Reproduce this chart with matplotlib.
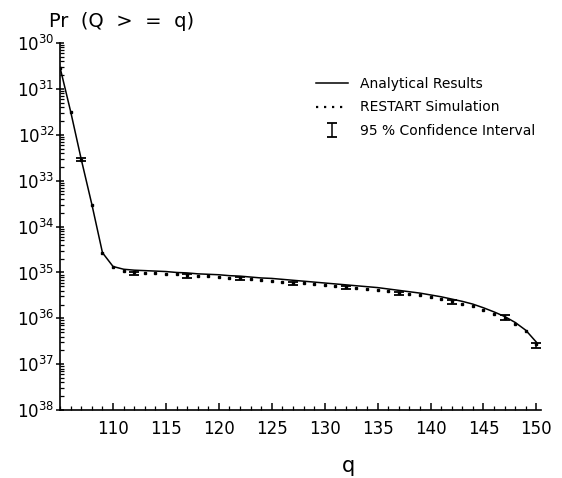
import matplotlib
matplotlib.use("Agg")
import matplotlib.pyplot as plt
from matplotlib.lines import Line2D
from matplotlib.ticker import FixedLocator, FuncFormatter, MultipleLocator
import numpy as np

plt.rcParams['font.family'] = ['DejaVu Sans']
plt.rcParams['mathtext.fontset'] = 'dejavusans'

# q values
q = list(range(105, 151))
# exponent k where Pr = 10^-k
analytical_exp = [30.54, 31.50, 32.54, 33.52, 34.57, 34.87, 34.93, 34.95, 34.96, 34.97,
                  34.98, 35.00, 35.01, 35.03, 35.04, 35.05, 35.07, 35.08, 35.10, 35.12,
                  35.13, 35.15, 35.17, 35.19, 35.21, 35.23, 35.25, 35.27, 35.29, 35.31,
                  35.33, 35.36, 35.39, 35.42, 35.45, 35.49, 35.53, 35.58, 35.63, 35.69,
                  35.77, 35.86, 35.96, 36.09, 36.26, 36.52]
simulation_exp = [30.54, 31.50, 32.55, 33.53, 34.58, 34.88, 34.97, 35.00, 35.01, 35.02,
                  35.03, 35.04, 35.06, 35.07, 35.08, 35.10, 35.11, 35.13, 35.15, 35.16,
                  35.18, 35.20, 35.22, 35.24, 35.26, 35.28, 35.30, 35.32, 35.34, 35.36,
                  35.38, 35.41, 35.44, 35.47, 35.50, 35.54, 35.58, 35.63, 35.68, 35.74,
                  35.82, 35.90, 36.00, 36.12, 36.28, 36.55]
ci_q = [107, 112, 117, 122, 127, 132, 137, 142, 147, 150]
ci_center_exp = [32.54, 35.02, 35.07, 35.13, 35.24, 35.33, 35.46, 35.65, 35.98, 36.59]
ci_low_exp = [32.50, 34.98, 35.03, 35.09, 35.20, 35.29, 35.42, 35.61, 35.93, 36.53]
ci_high_exp = [32.58, 35.06, 35.11, 35.17, 35.28, 35.37, 35.50, 35.69, 36.03, 36.65]
y_tick_exps = [30, 31, 32, 33, 34, 35, 36, 37, 38]
x_ticks = [110, 115, 120, 125, 130, 135, 140, 145, 150]

analytical = [10.0 ** (-e) for e in analytical_exp]
simulation = [10.0 ** (-e) for e in simulation_exp]
ci_center = [10.0 ** (-e) for e in ci_center_exp]
ci_err_low = [10.0 ** (-c) - 10.0 ** (-h) for c, h in zip(ci_center_exp, ci_high_exp)]
ci_err_high = [10.0 ** (-l) - 10.0 ** (-c) for c, l in zip(ci_center_exp, ci_low_exp)]

fig = plt.figure(figsize=(5.62, 4.78), dpi=100)
ax = fig.add_axes([0.107, 0.142, 0.855, 0.768])

ax.plot(q, analytical, color='black', lw=1.1, label='Analytical Results')
ax.plot(q, simulation, linestyle='none', marker='s', markersize=1.7, color='black')
ax.errorbar(ci_q, ci_center, yerr=[ci_err_low, ci_err_high], fmt='none',
            ecolor='black', elinewidth=1.1, capsize=3.5, capthick=1.3)

ax.set_yscale('log')
ax.set_ylim(1e-38, 1e-30)
ax.set_xlim(105, 150.4)

ax.yaxis.set_major_locator(FixedLocator([10.0 ** (-e) for e in y_tick_exps]))
ax.yaxis.set_major_formatter(FuncFormatter(lambda v, p: r'$\mathregular{10^{%d}}$' % round(-np.log10(v))))
ax.xaxis.set_major_locator(FixedLocator(x_ticks))
ax.xaxis.set_minor_locator(MultipleLocator(1))

for s in ['top', 'right']:
    ax.spines[s].set_visible(False)
for s in ['left', 'bottom']:
    ax.spines[s].set_linewidth(1.2)

ax.tick_params(axis='both', which='major', direction='in', length=5, width=1.1,
               labelsize=12, pad=7)
ax.tick_params(axis='both', which='minor', direction='in', length=3, width=0.9)
ax.tick_params(axis='y', which='major', direction='inout', length=6, pad=1)

ax.set_xlabel('q', fontsize=15)
ax.xaxis.set_label_coords(0.60, -0.125)
fig.text(0.088, 0.955, 'Pr  (Q  >  =  q)', fontsize=14, ha='left', va='center')

handles = [
    Line2D([], [], color='black', lw=1.1),
    Line2D([], [], color='black', lw=1.6, linestyle=(0, (1, 2.6))),
    ax.containers[0],
]
labels = ['Analytical Results', 'RESTART Simulation', '95 % Confidence Interval']
leg = fig.legend(handles, labels, loc='upper left', bbox_to_anchor=(0.54, 0.865),
                 frameon=False, fontsize=10, handlelength=2.3, labelspacing=0.68,
                 handletextpad=0.9)

fig.savefig('out.png', dpi=100)
